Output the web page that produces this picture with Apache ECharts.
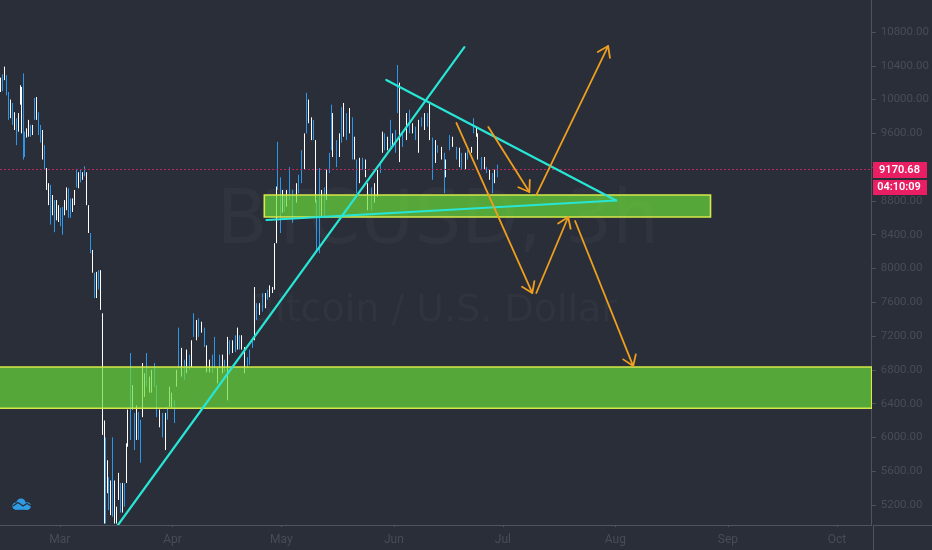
<!DOCTYPE html>
<html>
<head>
<meta charset="utf-8">
<style>html,body{margin:0;padding:0;background:#2a2e39}#c{width:932px;height:550px}</style>
<script src="https://cdn.jsdelivr.net/npm/echarts@6/dist/echarts.min.js"></script>
</head>
<body>
<div id="c"></div>
<script>
// x values are days counted from 1 March
const barDays = [
-16.2,-15.7,-15.1,-14.6,-14.0,-13.5,-12.9,-12.4,-11.8,-11.3,-10.7,-10.45,-10.0,-9.6,-9.1,-8.5,-8.0,-7.4,-6.9,-6.3,
-5.8,-5.2,-4.7,-4.1,-3.6,-3.0,-2.5,-1.9,-1.4,-0.8,-0.3,0.3,0.8,1.4,1.9,2.5,3.0,3.6,4.1,4.7,
5.2,5.8,6.3,6.9,7.4,8.0,8.5,9.1,9.6,10.2,10.7,11.3,11.8,12.4,12.65,13.1,13.5,14.0,14.6,15.1,
15.7,16.2,16.8,17.3,17.9,18.4,18.8,19.5,20.1,20.6,21.2,21.7,22.3,22.8,23.4,23.9,24.8,25.3,26.1,26.7,
27.5,28.3,29.2,29.7,30.3,30.8,31.6,32.2,32.7,33.6,34.4,34.9,35.8,36.3,36.9,37.7,38.2,39.1,39.9,40.4,
41.3,42.1,42.6,43.5,44.0,44.8,45.4,46.2,46.8,47.6,48.4,49.0,49.5,50.0,50.9,51.7,52.3,53.1,53.6,54.2,
55.0,55.8,56.7,57.2,57.8,58.6,59.1,59.7,60.1,60.8,61.3,61.9,62.4,63.3,64.1,65.2,65.7,66.6,67.4,67.9,
68.5,69.3,69.9,70.4,70.7,71.5,72.1,72.9,73.4,74.3,74.8,75.2,76.2,77.0,77.6,78.1,78.9,79.8,80.6,81.1,
81.7,82.5,83.3,84.2,84.7,85.8,86.6,87.5,88.3,88.8,89.4,90.2,91.0,91.6,92.4,93.0,93.5,94.3,95.4,96.3,
97.1,97.9,98.7,99.6,100.4,101.2,102.0,102.6,103.4,104.0,105.1,105.9,106.4,107.3,108.1,109.2,110.0,110.8,111.7,112.2,
113.3,113.9,114.7,115.2,116.1,116.9,117.7,118.5,119.1,119.9,120.7
];
const barHighs = [
10260,10300,10390,10290,10090,10000,9960,9850,9780,9840,10170,10150,10310,9620,9660,9760,9700,9700,10020,10030,
9850,9700,9640,9460,9190,9010,8990,8870,8810,8810,8750,8720,8730,8810,8960,8950,8830,8830,8930,9180,
9140,9170,9140,9210,9140,8750,8420,8220,7950,7960,7980,7980,7470,6200,6000,5730,5530,5490,6000,5490,
5180,5580,5460,5460,5460,5930,6330,7000,6620,6290,6380,6300,6210,6880,6760,7000,6720,6800,6880,6620,
6330,6290,6290,6360,6600,6530,6440,6800,7300,7060,6920,7040,6980,7150,7470,7390,7410,7370,7300,7090,
6920,6980,7190,6830,6980,6980,6920,7190,7150,7150,7210,7300,7210,7210,7070,6950,7040,7180,7780,7590,
7590,7710,7710,7750,7800,7780,8300,8970,9500,9080,8930,8870,8930,9200,8930,9010,9110,9400,9600,10080,
10000,9790,9760,9520,8810,9190,8930,8960,9170,9370,9940,9840,9520,9600,9910,9960,9840,9900,9790,9560,
9290,9310,9310,9290,9010,8960,9010,9170,9250,9620,9600,9560,9760,9600,9640,10410,10200,9600,9840,9880,
9720,9680,9760,9790,9840,9840,9960,9550,9520,9460,9440,9370,9290,9580,9560,9440,9430,9370,9370,9400,
9440,9780,9680,9600,9320,9320,9200,9170,9130,9170,9230
];
const barLows = [
10090,10100,10230,10050,9760,9780,9700,9640,9460,9620,9940,9600,9290,9320,9550,9560,9560,9580,9760,9760,
9580,9490,9290,9170,8930,8750,8520,8630,8430,8570,8550,8500,8400,8630,8690,8600,8600,8670,8750,8960,
8950,9020,9050,9090,8750,8420,8180,7950,7650,7650,7750,7510,6030,4980,4980,5340,5140,5080,5060,4980,
4980,5260,5110,5110,5180,5460,5890,5970,6330,5850,5970,5970,5700,6240,6480,6600,6530,6530,6600,6240,
6120,6000,5850,6210,6360,6350,6170,6600,6820,6720,6680,6760,6800,6830,7190,7150,7190,7240,7070,6770,
6770,6760,6830,6640,6820,6760,6780,6440,6980,7000,7010,7040,7040,7040,6760,6820,6860,7060,7150,7390,
7450,7490,7530,7630,7660,7710,7750,8300,8930,8420,8660,8670,8730,8810,8540,8780,8890,9010,9170,9600,
9720,9520,9520,8780,8220,8180,8610,8610,8810,9130,9400,9320,9200,9320,9490,9560,9520,9600,9290,9290,
8890,9010,9170,9080,8690,8690,8780,8850,9130,9370,9400,9400,9440,9440,9370,9840,9260,9440,9520,9600,
9600,9520,9370,9680,9640,9680,9520,9050,9250,9370,9290,8890,9080,9400,9440,9290,9200,9170,9170,9290,
9370,9600,9560,9290,9170,9170,9130,9050,8890,9010,9080
];
// 1 = white bar (open at low, close at high), 0 = blue bar
const barWhite = [
1,0,1,0,0,1,0,1,0,1,1,1,0,0,1,1,0,1,0,1,
0,0,1,0,1,1,0,1,0,1,1,0,0,1,1,0,0,1,1,0,
1,0,1,0,1,1,0,1,0,1,0,1,1,1,0,1,0,1,0,1,
1,1,0,1,0,1,1,0,1,0,1,0,0,1,1,0,1,1,0,0,
1,0,1,0,1,1,0,1,0,1,0,1,0,1,0,1,0,1,0,1,
1,0,0,1,0,1,0,1,0,1,0,1,0,1,1,0,0,0,1,0,
1,0,1,0,1,1,1,1,0,0,1,0,1,0,0,1,0,0,1,0,
1,1,0,1,0,0,1,0,1,0,0,1,0,1,0,1,0,1,0,1,
0,1,0,1,1,0,1,1,0,1,0,1,0,1,0,0,1,0,1,0,
1,0,1,0,1,0,1,0,1,0,1,0,1,0,1,0,1,0,1,0,
1,0,1,1,0,1,0,1,0,1,0
];
const priceTicks = [10800,10400,10000,9600,9200,8800,8400,8000,7600,7200,6800,6400,6000,5600,5200];
const monthTicks = [0,31,61,92,122,153,184,214];
const monthLabels = ['Mar','Apr','May','Jun','Jul','Aug','Sep','Oct'];
const lastPrice = 9170.68;
const lastPriceText = '9170.68';
const countdownText = '04:10:09';
// [day from, price from, day to, price to]
const zones = [[-17,6834,223.6,6345],[56.3,8870,179.2,8610]];
const trendLines = [[16.0,4963,111.4,10622],[89.9,10232,153.2,8805],[56.9,8574,153.2,8805]];
const arrows = [
[109.2,9723,130.1,7710],[118.0,9675,129.3,8906],[131.2,8870,151.0,10634],
[131.2,7710,140.0,8610],[141.9,8562,157.9,6845]
];
const bg='#2a2e39', axisCol='#50535e', textCol='#484c57', cyan='#28e6d6', orange='#ee9f1f', tag='#e91e63';
const font='Roboto, sans-serif';

const chart = echarts.init(document.getElementById('c'), null, {renderer:'canvas'});
const candles = barDays.map((d,i)=> barWhite[i]
  ? [d,barLows[i],barHighs[i],barLows[i],barHighs[i]]
  : [d,barHighs[i],barLows[i],barLows[i],barHighs[i]]);

function segStyle(color,w){return {stroke:color,lineWidth:w,lineCap:'round',lineJoin:'round',fill:null};}

chart.setOption({
  animation:false,
  backgroundColor:bg,
  grid:{left:0,right:59,top:0,bottom:25},
  xAxis:{type:'value',min:-16.5,max:223.6,splitLine:{show:false},
    axisLine:{onZero:false,lineStyle:{color:axisCol,width:1}},
    axisTick:{show:true,length:2,customValues:monthTicks,lineStyle:{color:axisCol}},
    axisLabel:{customValues:monthTicks,color:textCol,fontSize:12,fontFamily:font,margin:9,
      formatter:v=>monthLabels[monthTicks.indexOf(v)]||''}},
  yAxis:{type:'value',position:'right',min:4963,max:11179,splitLine:{show:false},
    axisLine:{show:true,onZero:false,lineStyle:{color:axisCol,width:1}},
    axisTick:{show:true,length:4,customValues:priceTicks,lineStyle:{color:axisCol}},
    axisLabel:{customValues:priceTicks,color:textCol,fontSize:11.5,fontFamily:font,margin:9,
      formatter:v=>v.toFixed(2)}},
  graphic:[
    {type:'text',z:-10,silent:true,style:{x:438,y:224,text:'BTCUSD, 3h',align:'center',verticalAlign:'middle',fill:'#30343e',font:'74px "DejaVu Sans", sans-serif'}},
    {type:'text',z:-10,silent:true,style:{x:433,y:311,text:'Bitcoin / U.S. Dollar',align:'center',verticalAlign:'middle',fill:'#30343e',font:'38px "DejaVu Sans", sans-serif'}},
    {type:'line',z:5,silent:true,shape:{x1:873.5,y1:525.5,x2:932,y2:525.5},style:{stroke:axisCol,lineWidth:1}},
    {type:'line',z:5,silent:true,shape:{x1:873.5,y1:525,x2:873.5,y2:550},style:{stroke:axisCol,lineWidth:1}},
    {type:'rect',z:50,silent:true,shape:{x:873,y:162,width:54,height:16},style:{fill:tag}},
    {type:'text',z:51,silent:true,style:{x:899.5,y:170.5,text:lastPriceText,align:'center',verticalAlign:'middle',fill:'#fff',font:'600 11px '+font}},
    {type:'rect',z:50,silent:true,shape:{x:873,y:180,width:54,height:15},style:{fill:tag}},
    {type:'text',z:51,silent:true,style:{x:899,y:187.5,text:countdownText,align:'center',verticalAlign:'middle',fill:'#fff',font:'600 11px '+font}},
    {type:'circle',z:51,silent:true,shape:{cx:16,cy:506,r:3.6},style:{fill:'#2f9be6'}},
    {type:'circle',z:51,silent:true,shape:{cx:21,cy:503,r:4.6},style:{fill:'#2f9be6'}},
    {type:'circle',z:51,silent:true,shape:{cx:27,cy:506,r:3.8},style:{fill:'#2f9be6'}},
    {type:'rect',z:51,silent:true,shape:{x:15,y:505,width:13,height:4.8},style:{fill:'#2f9be6'}},
    {type:'polyline',z:52,silent:true,shape:{points:[[13,506],[18,502.5],[23,506],[27,503.5],[31,506]]},style:{stroke:bg,lineWidth:1.3,fill:null}}
  ],
  series:[
    {type:'candlestick',name:'BTCUSD',data:candles,encode:{x:0,y:[1,2,3,4]},barWidth:0.4,z:2,clip:true,
      itemStyle:{color:'#ffffff',color0:'#2f97e8',borderColor:'#ffffff',borderColor0:'#2f97e8',borderWidth:1},
      markLine:{silent:true,symbol:'none',z:3,animation:false,
        lineStyle:{color:'#b8285f',opacity:1,type:[2,2],width:1},label:{show:false},
        data:[{yAxis:lastPrice}]}},
    {type:'custom',name:'zones',z:4,clip:true,data:zones,encode:{x:[0,2],y:[1,3]},
      renderItem:(p,api)=>{
        const a=api.coord([api.value(0),api.value(1)]), b=api.coord([api.value(2),api.value(3)]);
        return {type:'rect',shape:{x:a[0],y:a[1],width:b[0]-a[0],height:b[1]-a[1]},
          style:{fill:'rgba(106,220,57,0.7)',stroke:'#d6e84a',lineWidth:1.6}};
      }},
    {type:'custom',name:'trend',z:5,clip:true,data:trendLines,encode:{x:[0,2],y:[1,3]},
      renderItem:(p,api)=>{
        const a=api.coord([api.value(0),api.value(1)]), b=api.coord([api.value(2),api.value(3)]);
        return {type:'line',shape:{x1:a[0],y1:a[1],x2:b[0],y2:b[1]},style:segStyle(cyan,2.2)};
      }},
    {type:'custom',name:'arrows',z:6,clip:true,data:arrows,encode:{x:[0,2],y:[1,3]},
      renderItem:(p,api)=>{
        const a=api.coord([api.value(0),api.value(1)]), b=api.coord([api.value(2),api.value(3)]);
        const t=Math.atan2(b[1]-a[1],b[0]-a[0]), L=12, s=0.6;
        const h1=[b[0]-L*Math.cos(t-s),b[1]-L*Math.sin(t-s)], h2=[b[0]-L*Math.cos(t+s),b[1]-L*Math.sin(t+s)];
        return {type:'group',children:[
          {type:'line',shape:{x1:a[0],y1:a[1],x2:b[0],y2:b[1]},style:segStyle(orange,1.8)},
          {type:'polyline',shape:{points:[h1,b,h2]},style:segStyle(orange,1.8)}
        ]};
      }}
  ]
});
</script>
</body>
</html>
